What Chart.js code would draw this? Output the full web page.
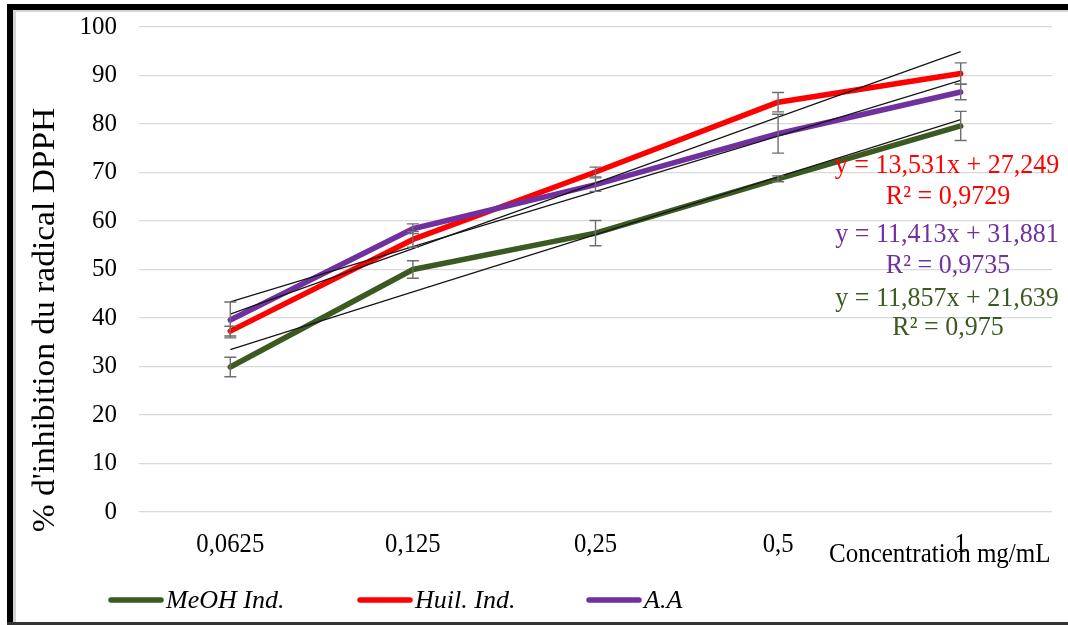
<!DOCTYPE html>
<html>
<head>
<meta charset="utf-8">
<script src="https://cdn.jsdelivr.net/npm/chart.js@4.4.1/dist/chart.umd.min.js"></script>
<style>
  html, body { margin: 0; padding: 0; background: #fff; }
  #wrap { width: 1068px; height: 625px; position: relative; }
</style>
</head>
<body>
<div id="wrap"><canvas id="c" width="1068" height="625"></canvas></div>
<script>
// ---- Data ----
const categories = ['0,0625', '0,125', '0,25', '0,5', '1'];
const yTicks = [0, 10, 20, 30, 40, 50, 60, 70, 80, 90, 100];

const meohValues = [29.9, 50.0, 57.5, 68.7, 79.6];
const meohErrors = [2.0, 1.8, 2.6, 0.6, 3.0];
const huileValues = [37.3, 56.2, 70.1, 84.5, 90.4];
const huileErrors = [1.0, 1.6, 1.0, 2.0, 2.2];
const aaValues = [39.6, 58.4, 67.5, 78.0, 86.6];
const aaErrors = [3.7, 1.0, 1.4, 4.0, 1.6];

// Linear trendlines (values read at each category)
const meohTrend = [33.5, 45.4, 57.2, 69.1, 80.9];
const huileTrend = [40.8, 54.3, 67.8, 81.4, 94.9];
const aaTrend = [43.3, 54.7, 66.1, 77.5, 89.0];

const seriesNames = ['MeOH Ind.', 'Huil. Ind.', 'A.A'];
const equationLines = [
  ['y = 13,531x + 27,249', 'R² = 0,9729'],
  ['y = 11,413x + 31,881', 'R² = 0,9735'],
  ['y = 11,857x + 21,639', 'R² = 0,975']
];
const yTitle = "% d'inhibition du radical DPPH";
const xTitle = 'Concentration mg/mL';

// ---- Styles ----
const GREEN = '#3b5a22';
const RED = '#ff0000';
const PURPLE = '#7030a0';
const SERIF = '"Liberation Serif", "Times New Roman", serif';

const errorSets = [
  { values: meohValues, errors: meohErrors },
  { values: huileValues, errors: huileErrors },
  { values: aaValues, errors: aaErrors }
];

function dataDs(label, data, color, order) {
  return { label, data, borderColor: color, backgroundColor: color, borderWidth: 5.5,
    pointRadius: 0, tension: 0, order, borderJoinStyle: 'round', borderCapStyle: 'round' };
}
function trendDs(label, data) {
  return { label, data, borderColor: '#161616', borderWidth: 1.3, pointRadius: 0, tension: 0, order: 1 };
}

const decorPlugin = {
  id: 'decor',
  beforeDraw(chart) {
    const ctx = chart.ctx;
    ctx.save();
    ctx.fillStyle = '#fff';
    ctx.fillRect(0, 0, chart.width, chart.height);
    // frame
    ctx.fillStyle = '#d4d4d4';
    ctx.fillRect(13, 10, 1055, 2);
    ctx.fillRect(13, 10, 3, 612);
    ctx.fillStyle = '#000';
    ctx.fillRect(7, 4, 1061, 6);
    ctx.fillRect(7, 4, 6, 621);
    ctx.fillStyle = '#333';
    ctx.fillRect(7, 622, 1061, 3);
    ctx.restore();
  },
  afterDatasetsDraw(chart) {
    const ctx = chart.ctx;
    const xs = chart.scales.x, ys = chart.scales.y;
    ctx.save();
    ctx.strokeStyle = '#6e6e6e';
    ctx.lineWidth = 1.4;
    errorSets.forEach(s => {
      s.values.forEach((v, i) => {
        const x = xs.getPixelForValue(i);
        const yt = ys.getPixelForValue(v + s.errors[i]);
        const yb = ys.getPixelForValue(v - s.errors[i]);
        ctx.beginPath();
        ctx.moveTo(x, yt); ctx.lineTo(x, yb);
        ctx.moveTo(x - 6, yt); ctx.lineTo(x + 6, yt);
        ctx.moveTo(x - 6, yb); ctx.lineTo(x + 6, yb);
        ctx.stroke();
      });
    });
    ctx.restore();
  },
  afterDraw(chart) {
    const ctx = chart.ctx;
    const xs = chart.scales.x;
    ctx.save();
    // x tick labels
    ctx.fillStyle = '#000';
    ctx.font = '26px ' + SERIF;
    ctx.textAlign = 'center';
    ctx.textBaseline = 'alphabetic';
    categories.forEach((c, i) => {
      const x = xs.getPixelForValue(i);
      ctx.save();
      ctx.translate(x, 552);
      ctx.scale(0.95, 1.05);
      ctx.fillText(c, 0, 0);
      ctx.restore();
    });
    // x title
    ctx.save();
    ctx.font = '25px ' + SERIF;
    ctx.textAlign = 'left';
    ctx.textBaseline = 'alphabetic';
    ctx.translate(829, 562);
    ctx.scale(1.0, 1.1);
    ctx.fillText(xTitle, 0, 0);
    ctx.restore();
    // y title
    ctx.save();
    ctx.translate(54, 320);
    ctx.rotate(-Math.PI / 2);
    ctx.font = '31px ' + SERIF;
    ctx.textAlign = 'center';
    ctx.textBaseline = 'alphabetic';
    ctx.scale(1.08, 1);
    ctx.fillText(yTitle, 0, 0);
    ctx.restore();
    // equations
    const eqColors = [RED, PURPLE, GREEN];
    const eqBase = [173, 204, 242, 273, 306, 335];
    ctx.font = '26px ' + SERIF;
    ctx.textAlign = 'center';
    ctx.textBaseline = 'alphabetic';
    equationLines.forEach((lines, k) => {
      ctx.fillStyle = eqColors[k];
      ctx.save();
      ctx.translate(947, eqBase[k * 2]);
      ctx.scale(1, 1.06);
      ctx.fillText(lines[0], 0, 0);
      ctx.restore();
      ctx.save();
      ctx.translate(948, eqBase[k * 2 + 1]);
      ctx.scale(1, 1.06);
      ctx.fillText(lines[1], 0, 0);
      ctx.restore();
    });
    // legend
    const legColors = [GREEN, RED, PURPLE];
    const legX = [109, 358, 587];
    ctx.font = 'italic 26px ' + SERIF;
    ctx.textAlign = 'left';
    ctx.textBaseline = 'middle';
    seriesNames.forEach((n, k) => {
      ctx.strokeStyle = legColors[k];
      ctx.lineWidth = 5.5;
      ctx.lineCap = 'round';
      ctx.beginPath();
      ctx.moveTo(legX[k] + 2, 600);
      ctx.lineTo(legX[k] + 52, 600);
      ctx.stroke();
      ctx.fillStyle = '#000';
      ctx.fillText(n, legX[k] + 57, 601);
    });
    ctx.restore();
  }
};

new Chart(document.getElementById('c'), {
  type: 'line',
  data: {
    labels: categories,
    datasets: [
      dataDs(seriesNames[0], meohValues, GREEN, 5),
      dataDs(seriesNames[1], huileValues, RED, 4),
      dataDs(seriesNames[2], aaValues, PURPLE, 3),
      trendDs('Linéaire (MeOH Ind.)', meohTrend),
      trendDs('Linéaire (Huil. Ind.)', huileTrend),
      trendDs('Linéaire (A.A)', aaTrend)
    ]
  },
  options: {
    responsive: false,
    animation: false,
    layout: { padding: { left: 0, right: 16, top: 25, bottom: 0 } },
    plugins: { legend: { display: false }, tooltip: { enabled: false } },
    scales: {
      x: {
        type: 'category',
        offset: true,
        grid: { display: false },
        border: { display: false },
        ticks: { display: false },
        afterFit(scale) { scale.height = 113; }
      },
      y: {
        min: 0, max: 100,
        afterBuildTicks(scale) { scale.ticks = yTicks.map(v => ({ value: v })); },
        grid: { color: '#d9d9d9', lineWidth: 1.3, drawTicks: false },
        border: { display: false },
        ticks: { color: '#000', font: { family: SERIF, size: 25, lineHeight: 0.4 }, padding: 22 },
        afterFit(scale) { scale.width = 139; }
      }
    }
  },
  plugins: [decorPlugin]
});
</script>
</body>
</html>
